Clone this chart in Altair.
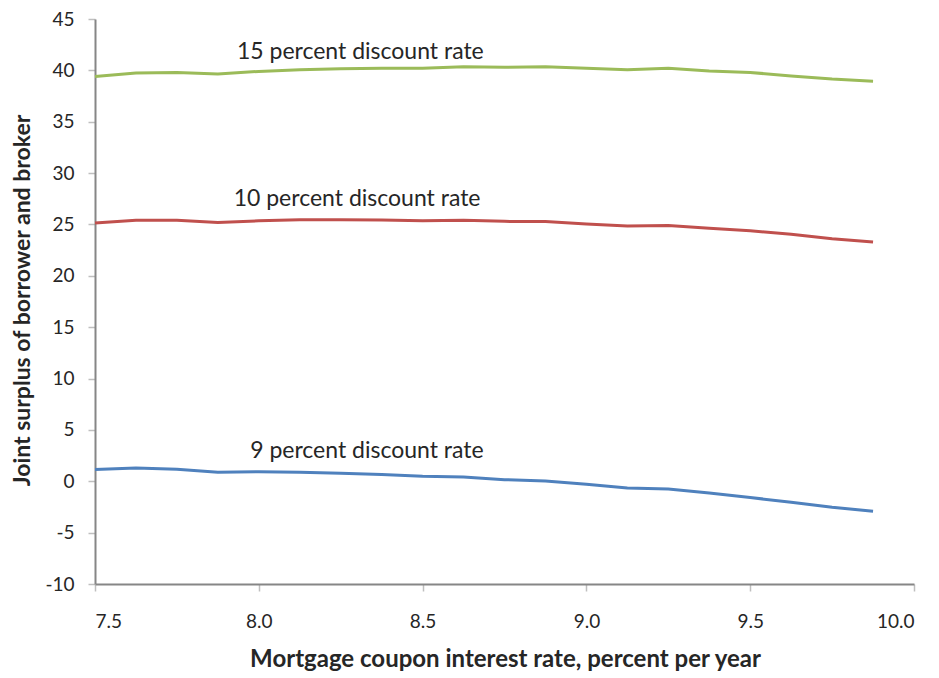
import altair as alt
import pandas as pd

coupon = [7.5, 7.625, 7.75, 7.875, 8.0, 8.125, 8.25, 8.375, 8.5, 8.625,
          8.75, 8.875, 9.0, 9.125, 9.25, 9.375, 9.5, 9.625, 9.75, 9.875]

rate15 = [39.4, 39.75, 39.8, 39.65, 39.9, 40.05, 40.15, 40.2, 40.2, 40.35,
          40.3, 40.35, 40.2, 40.05, 40.2, 39.95, 39.8, 39.45, 39.15, 38.95]
rate10 = [25.15, 25.4, 25.4, 25.2, 25.35, 25.45, 25.45, 25.43, 25.35, 25.4,
          25.3, 25.28, 25.05, 24.85, 24.9, 24.62, 24.38, 24.05, 23.6, 23.3]
rate9 = [1.15, 1.3, 1.18, 0.87, 0.93, 0.87, 0.77, 0.67, 0.5, 0.42,
         0.16, 0.03, -0.3, -0.65, -0.75, -1.15, -1.58, -2.05, -2.53, -2.92]

series_names = ["15 percent discount rate", "10 percent discount rate", "9 percent discount rate"]
series_colors = ["#9BBB59", "#C0504D", "#4F81BD"]

label_x = [8.31, 8.30, 8.33]
label_y = [41.8, 27.5, 2.9]

rows = []
for name, vals in zip(series_names, [rate15, rate10, rate9]):
    for x, y in zip(coupon, vals):
        rows.append({"coupon": x, "surplus": y, "series": name})
df = pd.DataFrame(rows)
labels = pd.DataFrame({"coupon": label_x, "surplus": label_y, "series": series_names})

FONT = "Lato"
GRAY = "#868686"
TEXT = "#262626"

xscale = alt.Scale(domain=[7.5, 10.0], nice=False, zero=False)
yscale = alt.Scale(domain=[-10, 45], nice=False, zero=False)

lines = alt.Chart(df).mark_line(strokeWidth=3).encode(
    x=alt.X("coupon:Q", scale=xscale,
            axis=alt.Axis(title="Mortgage coupon interest rate, percent per year",
                          values=[7.5, 8.0, 8.5, 9.0, 9.5, 10.0], format=".1f",
                          grid=False, domainColor=GRAY, domainWidth=2,
                          tickColor="#BFBFBF", tickSize=7, tickWidth=1.5,
                          labelPadding=21, labelFont=FONT, labelFontSize=19,
                          labelColor=TEXT, titleFont=FONT, titleFontSize=24,
                          titleFontWeight="bold", titleColor=TEXT,
                          titleX=410, titleY=75, titleBaseline="middle",
                          titleAlign="center")),
    y=alt.Y("surplus:Q", scale=yscale,
            axis=alt.Axis(title="Joint surplus of borrower and broker",
                          values=list(range(-10, 50, 5)),
                          labelExpr="toString(datum.value)",
                          grid=False, domainColor=GRAY, domainWidth=2,
                          tickColor="#BFBFBF", tickSize=7, tickWidth=1.5,
                          labelPadding=14, labelFont=FONT, labelFontSize=19,
                          labelColor=TEXT, titleFont=FONT, titleFontSize=23,
                          titleFontWeight="bold", titleColor=TEXT,
                          titleX=-73, titleY=281, titleAngle=-90,
                          titleBaseline="middle", titleAlign="center")),
    color=alt.Color("series:N", scale=alt.Scale(domain=series_names, range=series_colors),
                    legend=None),
    detail="series:N",
)

texts = alt.Chart(labels).mark_text(font=FONT, fontSize=23, color=TEXT,
                                     align="center", baseline="middle").encode(
    x=alt.X("coupon:Q", scale=xscale),
    y=alt.Y("surplus:Q", scale=yscale),
    text="series:N",
)

chart = alt.layer(lines, texts).properties(
    width=819, height=565,
    autosize=alt.AutoSizeParams(type="none"),
    padding={"left": 87, "top": 11, "right": 17, "bottom": 92},
).configure(background="white").configure_view(stroke=None)

chart.save("out.html", embed_options={"renderer": "svg", "actions": False})
